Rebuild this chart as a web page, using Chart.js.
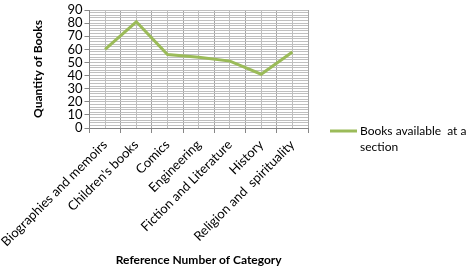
<!DOCTYPE html>
<html>
<head>
<meta charset="utf-8">
<script src="https://cdn.jsdelivr.net/npm/chart.js@4"></script>
<style>
  body { margin: 0; background: #fff; }
  #wrap { width: 471px; height: 279px; }
</style>
</head>
<body>
<div id="wrap"><canvas id="grafico" width="471" height="279"></canvas></div>
<script>
// datos del grafico
const categorias = ['Biographies and memoirs', "Children's books", 'Comics', 'Engineering',
  'Fiction and Literature', 'History', 'Religion and  spirituality'];
const libros = [60, 81, 56, 54, 51, 41, 58];
const nombreSerie = ['Books available  at a', 'section'];
const tituloY = 'Quantity of Books';
const tituloX = 'Reference Number of Category';

const fuente = 'Lato, "Open Sans", sans-serif';
const colorLinea = '#9bbb59';

// leyenda dibujada a mano (texto en dos lineas)
const leyenda = {
  id: 'leyenda',
  afterDraw(chart) {
    const c = chart.ctx;
    const x = chart.chartArea.right + 22;
    const y = 131;
    c.save();
    c.strokeStyle = colorLinea;
    c.lineWidth = 3;
    c.beginPath();
    c.moveTo(x, y);
    c.lineTo(x + 27, y);
    c.stroke();
    c.fillStyle = '#000';
    c.font = '12px ' + fuente;
    c.textBaseline = 'middle';
    nombreSerie.forEach((t, i) => c.fillText(t, x + 30, y + i * 16));
    c.restore();
  }
};

const ctx = document.getElementById('grafico').getContext('2d');
new Chart(ctx, {
  type: 'line',
  data: {
    labels: categorias,
    datasets: [{
      label: nombreSerie.join(' '),
      data: libros,
      borderColor: colorLinea,
      borderWidth: 3,
      pointRadius: 0,
      tension: 0,
      fill: false
    }]
  },
  options: {
    responsive: false,
    animation: false,
    layout: { padding: { top: 10, right: 163, left: 27, bottom: 8 } },
    plugins: { legend: { display: false }, tooltip: { enabled: false } },
    scales: {
      x: {
        type: 'category',
        offset: true,
        afterFit: s => { s.height = 143; s.paddingLeft = 0; },
        grid: { offset: true, color: '#a6a6a6', tickColor: '#868686', tickLength: 5 },
        border: { color: '#868686' },
        ticks: { color: '#000', font: { family: fuente, size: 13 }, minRotation: 45, maxRotation: 45, autoSkip: false, padding: 4 },
        title: { display: true, text: tituloX, color: '#000', font: { family: fuente, size: 12, weight: 'bold' }, padding: { top: 10 } }
      },
      x2: {
        type: 'category',
        labels: categorias,
        position: 'bottom',
        offset: true,
        display: true,
        grid: { offset: false, color: '#bfbfbf', drawTicks: false },
        border: { display: false },
        ticks: { display: false }
      },
      y: {
        min: 0,
        max: 90,
        grid: {
          color: '#bfbfbf',
          tickLength: 5,
          tickColor: c => (c.tick && c.tick.value % 10 === 0) ? '#868686' : 'rgba(0,0,0,0)'
        },
        border: { color: '#868686' },
        ticks: {
          stepSize: 2,
          autoSkip: false,
          color: '#000',
          font: { family: fuente, size: 13 },
          padding: 2,
          callback: v => (v % 10 === 0 ? v : '')
        },
        title: { display: true, text: tituloY, color: '#000', font: { family: fuente, size: 12, weight: 'bold' }, padding: { bottom: 20 } }
      }
    }
  },
  plugins: [leyenda]
});
</script>
</body>
</html>
